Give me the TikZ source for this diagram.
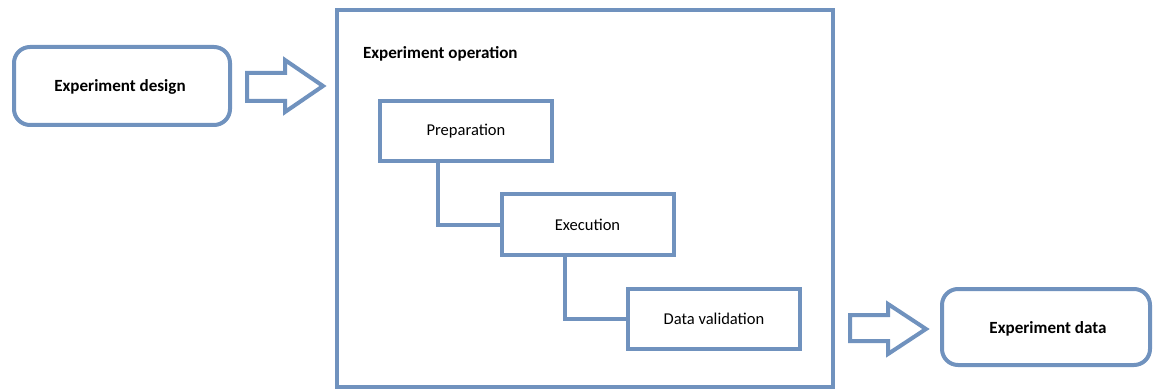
\documentclass[tikz,border=0pt]{standalone}
\usepackage{fontspec}
\setmainfont{Carlito}
\definecolor{boxblue}{RGB}{112,146,190}
\begin{document}
\begin{tikzpicture}[x=0.75pt,y=-0.75pt,
  line width=3pt,
  boldtext/.style={font=\bfseries\fontsize{12.8}{14}\selectfont},
  roundbox/.style={draw=boxblue,rounded corners=12pt,inner sep=0pt},
  stepbox/.style={draw=boxblue,font=\fontsize{12.4}{14}\selectfont,inner sep=0pt,minimum width=129pt,minimum height=45pt},
  conn/.style={draw=boxblue,line cap=rect},
  blockarrow/.style={draw=boxblue,line join=miter}]
\useasboundingbox (0,0) rectangle (1153,392);
% outer boxes
\node[roundbox,minimum width=162pt,minimum height=58.5pt] (design) at (122,86) {};
\node[boldtext] (designtxt) at (120,87) {Experiment design};
\node[draw=boxblue,minimum width=372pt,minimum height=283pt,inner sep=0pt] (oper) at (585,198.5) {};
\node[anchor=west,inner sep=0pt,boldtext] (opertxt) at (361,54) {Experiment operation};
\node[roundbox,minimum width=156pt,minimum height=57pt] (data) at (1046,327) {};
\node[boldtext] (datatxt) at (1048,329) {Experiment data};
% steps
\node[stepbox] (prep) at (466,131) {Preparation};
\node[stepbox] (exec) at (587.5,224.5) {Execution};
\node[stepbox] (valid) at (714,319) {Data validation};
\draw[conn] ([xshift=-21pt]prep.south) |- (exec.west);
\draw[conn] ([xshift=-17pt]exec.south) |- (valid.west);
% block arrows
\draw[blockarrow] (247,73) -- (285,73) -- (285,60) -- (323,86) -- (285,112) -- (285,101) -- (247,101) -- cycle;
\draw[blockarrow] (850,315) -- (888,315) -- (888,304) -- (926,329) -- (888,354) -- (888,341) -- (850,341) -- cycle;
\end{tikzpicture}
\end{document}
